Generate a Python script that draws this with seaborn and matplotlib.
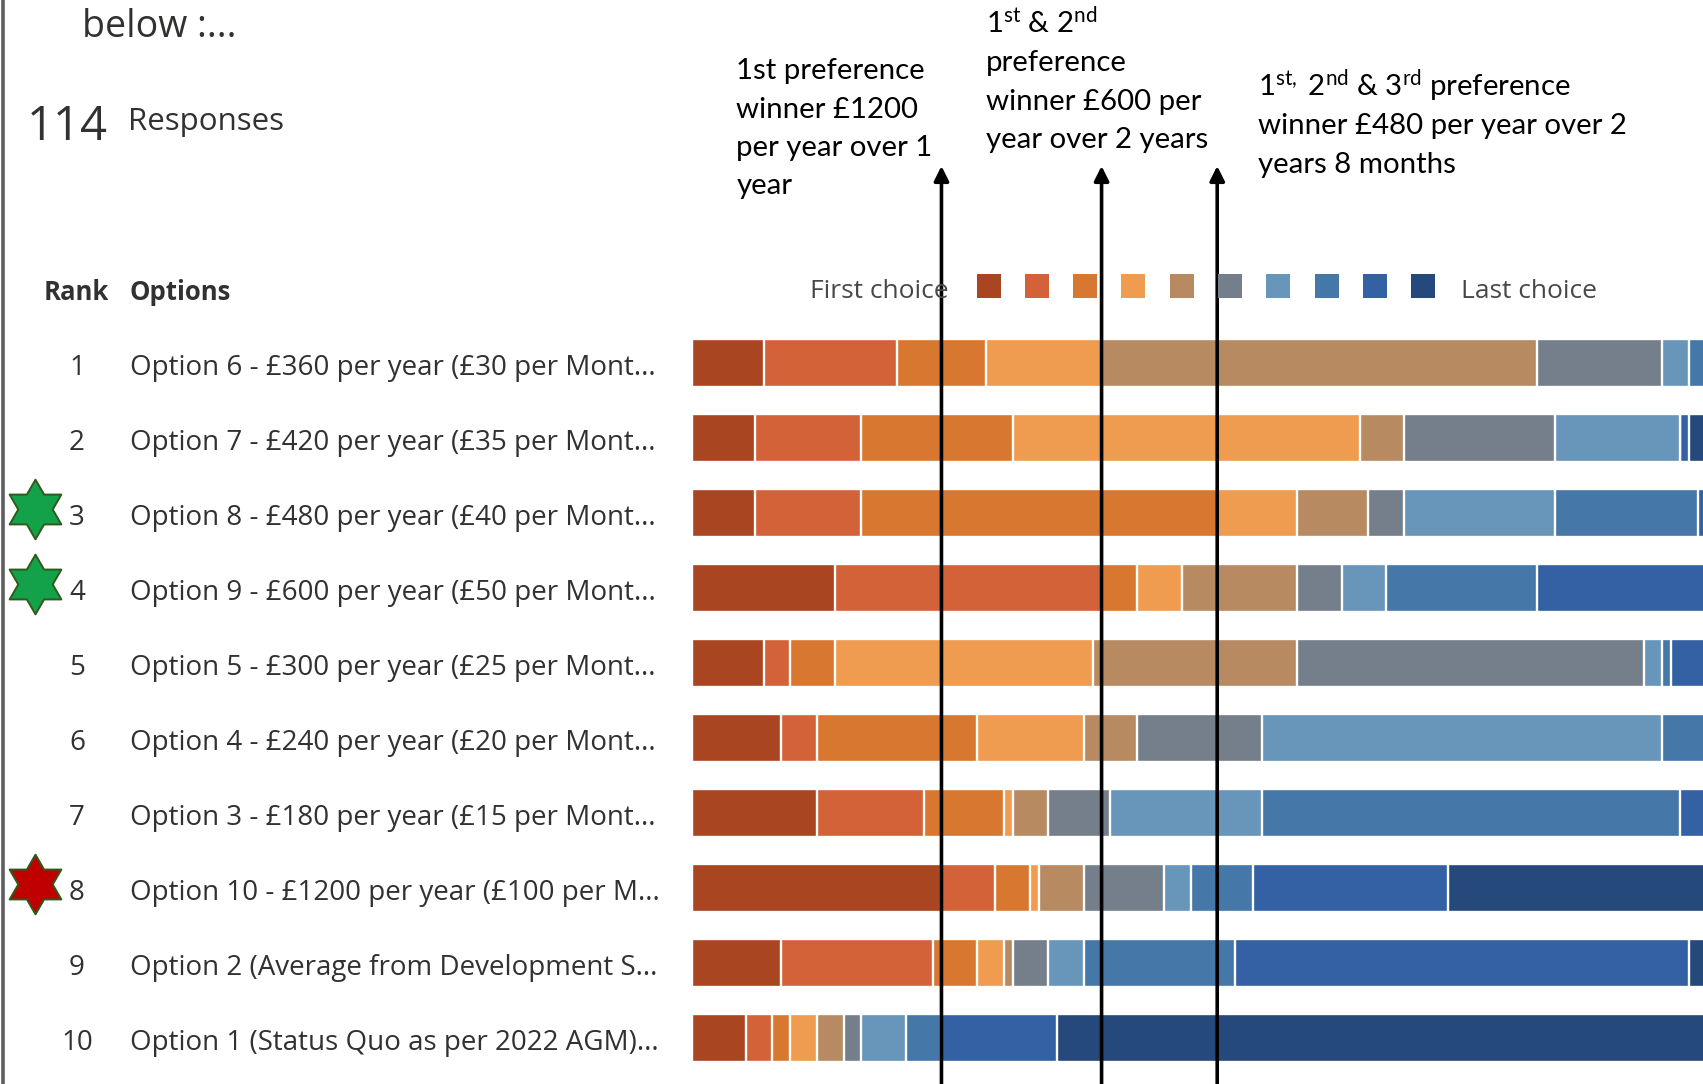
import numpy as np
import pandas as pd
import matplotlib
matplotlib.use("Agg")
import matplotlib.pyplot as plt
import matplotlib.transforms as mtransforms
from matplotlib.path import Path
from matplotlib.patches import Rectangle
from matplotlib.lines import Line2D
import seaborn as sns

# ---------------------------------------------------------------- data
total_responses = 114

ranks = [1, 2, 3, 4, 5, 6, 7, 8, 9, 10]

options = [
    "Option 6 - £360 per year (£30 per Mont...",
    "Option 7 - £420 per year (£35 per Mont...",
    "Option 8 - £480 per year (£40 per Mont...",
    "Option 9 - £600 per year (£50 per Mont...",
    "Option 5 - £300 per year (£25 per Mont...",
    "Option 4 - £240 per year (£20 per Mont...",
    "Option 3 - £180 per year (£15 per Mont...",
    "Option 10 - £1200 per year (£100 per M...",
    "Option 2 (Average from Development S...",
    "Option 1 (Status Quo as per 2022 AGM)...",
]

choice_positions = ["1st", "2nd", "3rd", "4th", "5th",
                    "6th", "7th", "8th", "9th", "10th"]

# number of respondents placing each option 1st, 2nd, ... 10th
option6 = [8, 15, 10, 13, 49, 14, 3, 2, 0, 0]
option7 = [7, 12, 17, 39, 5, 17, 14, 0, 1, 2]
option8 = [7, 12, 40, 9, 8, 4, 17, 16, 1, 0]
option9 = [16, 30, 4, 5, 13, 5, 5, 17, 19, 0]
option5 = [8, 3, 5, 29, 23, 39, 2, 1, 4, 0]
option4 = [10, 4, 18, 12, 6, 14, 45, 5, 0, 0]
option3 = [14, 12, 9, 1, 4, 7, 17, 47, 3, 0]
option10 = [28, 6, 4, 1, 5, 9, 3, 7, 22, 29]
option2 = [10, 17, 5, 3, 1, 4, 4, 17, 51, 2]
option1 = [6, 3, 2, 3, 3, 2, 5, 4, 13, 73]

counts = [option6, option7, option8, option9, option5,
          option4, option3, option10, option2, option1]

starred_ranks = [3, 4, 8]
star_fills = ["#13A24A", "#13A24A", "#C00000"]

palette = ["#AA4521", "#D46239", "#D87830", "#EF9C51", "#B78A62",
           "#757F8B", "#6896BB", "#4577A9", "#3461A3", "#25497B"]

annotation_1 = ["1st preference", "winner £1200", "per year over 1", "year"]
annotation_2 = [r"1$^{\mathrm{st}}$ & 2$^{\mathrm{nd}}$", "preference",
                "winner £600 per", "year over 2 years"]
annotation_3 = [r"1$^{\mathrm{st,}}$ 2$^{\mathrm{nd}}$ & 3$^{\mathrm{rd}}$ preference",
                "winner £480 per year over 2", "years 8 months"]

# long table: cumulative count up to each choice position
rows = []
for opt, vals in zip(options, counts):
    cum = np.cumsum(vals)
    for pos, c in zip(choice_positions, cum):
        rows.append({"option": opt, "choice": pos, "cumulative": c})
df = pd.DataFrame(rows)

# ---------------------------------------------------------------- style
sns.set_style("white")
plt.rcParams["font.family"] = ["Open Sans", "DejaVu Sans"]
plt.rcParams["mathtext.fontset"] = "custom"
plt.rcParams["mathtext.rm"] = "Lato"
plt.rcParams["mathtext.it"] = "Lato:italic"
plt.rcParams["mathtext.bf"] = "Lato:bold"

W, H = 1703, 1084
fig = plt.figure(figsize=(W / 100, H / 100), dpi=100)
fig.patch.set_facecolor("white")


def fx(px):
    return px / W


def fy(py):
    return 1 - py / H


text_col = "#323130"

# bar panel: rows 75 px apart, first row centred at y = 363 px
bar_left, unit_px = 692.4, 8.895
row0, row_step = 363, 75
ax = fig.add_axes([fx(bar_left), fy(row0 + 9.5 * row_step),
                   1 - fx(bar_left), 10 * row_step / H])
ax.set_facecolor("none")

# stacked bars: draw cumulative totals from last choice to first, so each
# earlier choice overlays the later ones
sns.barplot(data=df, x="cumulative", y="option", hue="choice",
            order=options, hue_order=choice_positions[::-1],
            palette=dict(zip(choice_positions, palette)),
            dodge=False, orient="h", width=0.65, saturation=1,
            errorbar=None, legend=False, edgecolor="white",
            linewidth=1.7, ax=ax)
ax.set_xlim(0, (W - bar_left) / unit_px)
ax.set_ylim(len(options) - 0.5, -0.5)
ax.set_xticks([])
ax.set_yticks([])
ax.set_xlabel("")
ax.set_ylabel("")
sns.despine(ax=ax, left=True, bottom=True)

trans = mtransforms.blended_transform_factory(fig.transFigure, ax.transData)

# rank numbers and option names
for i, (r, opt) in enumerate(zip(ranks, options)):
    ax.text(fx(77), i + 0.16, str(r), transform=trans, ha="center",
            va="baseline", fontsize=20, color=text_col, clip_on=False)
    ax.text(fx(129.5), i + 0.16, opt, transform=trans, ha="left",
            va="baseline", fontsize=20, color=text_col, clip_on=False)

# six-pointed stars beside highlighted ranks
star_verts = []
for k in range(12):
    ang = np.pi / 2 + k * np.pi / 6
    rad = 1.0 if k % 2 == 0 else 1 / np.sqrt(3)
    star_verts.append((rad * np.cos(ang), rad * np.sin(ang)))
star_verts.append(star_verts[0])
star_path = Path(star_verts, [Path.MOVETO] + [Path.LINETO] * 11 + [Path.CLOSEPOLY])
for r, col in zip(starred_ranks, star_fills):
    ax.plot([fx(35)], [ranks.index(r) - 0.06], marker=star_path,
            markersize=43, markerfacecolor=col, markeredgecolor="#2E5A1C",
            markeredgewidth=1.4, linestyle="none", transform=trans,
            clip_on=False)

# header texts
fig.text(fx(81.7), fy(36.7), "below :...", fontsize=27, color=text_col,
         va="baseline")
fig.text(fx(27), fy(140), "114", fontsize=34, color=text_col,
         va="baseline")
fig.text(fx(128), fy(130), "Responses", fontsize=22.5, color=text_col,
         va="baseline")
fig.text(fx(43.8), fy(300), "Rank", fontsize=18.5, fontweight="bold",
         color=text_col, va="baseline")
fig.text(fx(129.5), fy(300), "Options", fontsize=18.5, fontweight="bold",
         color=text_col, va="baseline")

# colour key
fig.text(fx(810), fy(297.7), "First choice", fontsize=19, color="#4A4846",
         va="baseline")
fig.text(fx(1461), fy(297.7), "Last choice", fontsize=19, color="#4A4846",
         va="baseline")
for k, col in enumerate(palette):
    cx = 988.5 + 48.3 * k
    fig.add_artist(Rectangle((fx(cx - 12), fy(286 + 12)), 24 / W, 24 / H,
                             transform=fig.transFigure, facecolor=col,
                             edgecolor="none"))

# left window border
fig.add_artist(Line2D([fx(2.5), fx(2.5)], [0, 1], color="#5E5E5E", lw=2.6,
                      transform=fig.transFigure))

# arrows at the leading cumulative share of first, first+second and
# first+second+third preferences
arr = np.array(counts)
for k in (1, 2, 3):
    lead = arr[:, :k].sum(axis=1).max()
    ax.annotate("", xy=(lead, fy(166)), xytext=(lead, 0),
                xycoords=("data", "figure fraction"),
                textcoords=("data", "figure fraction"),
                arrowprops=dict(arrowstyle="-|>", color="black", lw=2.6,
                                mutation_scale=22, shrinkA=0, shrinkB=0),
                annotation_clip=False, zorder=10)

# annotation texts
for lines, x0, baselines in [
    (annotation_1, 736.5, [79, 118, 156, 194]),
    (annotation_2, 986, [33, 71, 110, 148]),
    (annotation_3, 1258, [96, 134, 172.5]),
]:
    for line, yb in zip(lines, baselines):
        fig.text(fx(x0), fy(yb), line, fontsize=21.2, family="Lato",
                 color="black", va="baseline")

fig.savefig("out.png", dpi=100, facecolor="white")
